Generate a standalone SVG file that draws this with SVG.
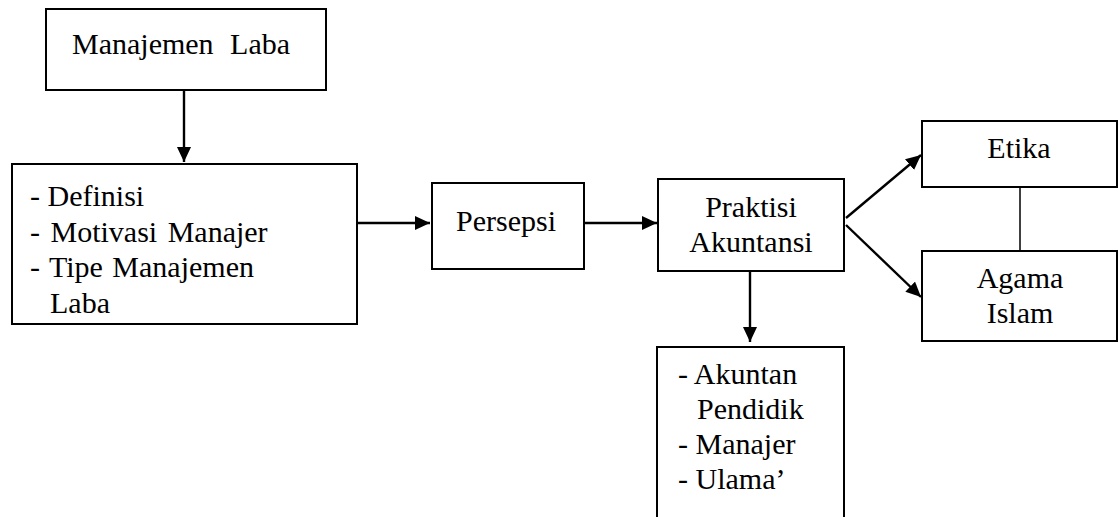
<svg xmlns="http://www.w3.org/2000/svg" width="1119" height="517" viewBox="0 0 1119 517">
<style>
.box{fill:#fff;stroke:#000;stroke-width:2}
.t{font-family:"Liberation Serif","Times New Roman",serif;font-size:30px;fill:#000}
.m{text-anchor:middle}
.c{stroke:#000;stroke-width:2.4;fill:none}
.thin{stroke:#000;stroke-width:1.5;fill:none}
</style>
<defs>
<marker id="ah" markerUnits="userSpaceOnUse" markerWidth="16" markerHeight="14" refX="15" refY="7" orient="auto">
<path d="M0,0 L15,7 L0,14 z" fill="#000"/>
</marker>
</defs>
<rect width="1119" height="517" fill="#fff"/>
<g id="connectors">
<line class="c" x1="184" y1="91" x2="184" y2="162" marker-end="url(#ah)"/>
<line class="c" x1="357" y1="223" x2="430" y2="223" marker-end="url(#ah)"/>
<line class="c" x1="585" y1="223" x2="657" y2="223" marker-end="url(#ah)"/>
<line class="c" x1="846" y1="218" x2="921" y2="155" marker-end="url(#ah)"/>
<line class="c" x1="846" y1="225" x2="921" y2="297" marker-end="url(#ah)"/>
<line class="c" x1="750" y1="271" x2="750" y2="342" marker-end="url(#ah)"/>
<line class="thin" x1="1020" y1="187" x2="1020" y2="251"/>
</g>
<g id="manajemen-laba">
<rect class="box" x="46" y="9" width="280" height="81"/>
<text class="t" x="72" y="54" style="word-spacing:9px">Manajemen Laba</text>
</g>
<g id="detail">
<rect class="box" x="12" y="164" width="345" height="160"/>
<text class="t" x="30" y="206">- Definisi</text>
<text class="t" x="30" y="242" style="word-spacing:3px">- Motivasi Manajer</text>
<text class="t" x="30" y="277" style="word-spacing:2px">- Tipe Manajemen</text>
<text class="t" x="50" y="313">Laba</text>
</g>
<g id="persepsi">
<rect class="box" x="432" y="183" width="152" height="86"/>
<text class="t m" x="506" y="231">Persepsi</text>
</g>
<g id="praktisi">
<rect class="box" x="658" y="179" width="186" height="92"/>
<text class="t m" x="751" y="217">Praktisi</text>
<text class="t m" x="751" y="252">Akuntansi</text>
</g>
<g id="pelaku">
<rect class="box" x="657" y="347" width="187" height="190"/>
<text class="t" x="678" y="384">- Akuntan</text>
<text class="t" x="697" y="419">Pendidik</text>
<text class="t" x="678" y="454">- Manajer</text>
<text class="t" x="678" y="489">- Ulama’</text>
</g>
<g id="etika">
<rect class="box" x="922" y="121" width="195" height="66"/>
<text class="t m" x="1019" y="158">Etika</text>
</g>
<g id="agama-islam">
<rect class="box" x="922" y="251" width="195" height="90"/>
<text class="t m" x="1020" y="288">Agama</text>
<text class="t m" x="1020" y="323">Islam</text>
</g>
</svg>
